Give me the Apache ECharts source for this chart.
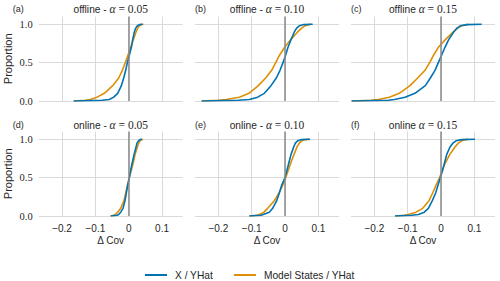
<!DOCTYPE html>
<html><head><meta charset="utf-8">
<script src="https://cdn.jsdelivr.net/npm/echarts@6/dist/echarts.min.js"></script>
<style>html,body{margin:0;padding:0;background:#fff}#c{width:500px;height:281px}</style>
</head><body><div id="c"></div>
<script>
// ---- data ----
const proportions = [0, 0.01, 0.02, 0.05, 0.1, 0.2, 0.3, 0.4, 0.5, 0.6, 0.7, 0.8, 0.9, 0.95, 0.98, 0.995, 1];
const seriesNames = ['X / YHat', 'Model States / YHat'];
const panelLabels = ['(a)', '(b)', '(c)', '(d)', '(e)', '(f)'];
const panelModes = ['offline - ', 'offline - ', 'offline ', 'online - ', 'online - ', 'online '];
const panelAlphas = ['0.05', '0.10', '0.15', '0.05', '0.10', '0.15'];
const xTicks = [-0.2, -0.1, 0, 0.1];
const yTicks = [0, 0.5, 1];
// ΔCov value reached at each proportion (X / YHat, Model States / YHat)
const aX = [-0.165, -0.08, -0.058, -0.045, -0.033, -0.022, -0.015, -0.009, -0.004, 0.002, 0.008, 0.012, 0.017, 0.021, 0.026, 0.032, 0.042];
const aM = [-0.165, -0.13, -0.115, -0.095, -0.073, -0.048, -0.03, -0.019, -0.010, -0.002, 0.006, 0.014, 0.022, 0.027, 0.032, 0.038, 0.044];
const bX = [-0.25, -0.14, -0.107, -0.082, -0.062, -0.042, -0.026, -0.015, -0.006, 0.002, 0.009, 0.018, 0.028, 0.035, 0.043, 0.055, 0.083];
const bM = [-0.25, -0.2, -0.177, -0.137, -0.108, -0.08, -0.058, -0.04, -0.028, -0.016, -0.001, 0.017, 0.038, 0.05, 0.06, 0.07, 0.078];
const cX = [-0.268, -0.158, -0.14, -0.108, -0.078, -0.047, -0.032, -0.018, -0.008, 0.002, 0.012, 0.023, 0.038, 0.048, 0.058, 0.08, 0.122];
const cM = [-0.268, -0.21, -0.188, -0.155, -0.125, -0.093, -0.07, -0.048, -0.034, -0.022, -0.008, 0.013, 0.037, 0.05, 0.062, 0.075, 0.082];
const dX = [-0.054, -0.035, -0.03, -0.024, -0.017, -0.011, -0.007, -0.003, 0.002, 0.006, 0.011, 0.016, 0.022, 0.025, 0.029, 0.034, 0.04];
const dM = [-0.054, -0.045, -0.04, -0.033, -0.024, -0.014, -0.009, -0.004, 0.002, 0.008, 0.014, 0.019, 0.026, 0.03, 0.034, 0.039, 0.043];
const eX = [-0.107, -0.072, -0.065, -0.047, -0.037, -0.025, -0.017, -0.01, 0.0, 0.006, 0.012, 0.018, 0.026, 0.031, 0.038, 0.048, 0.075];
const eM = [-0.107, -0.085, -0.077, -0.063, -0.052, -0.032, -0.018, -0.007, 0.002, 0.01, 0.018, 0.027, 0.036, 0.043, 0.05, 0.06, 0.073];
const fX = [-0.138, -0.088, -0.068, -0.05, -0.038, -0.026, -0.016, -0.009, -0.002, 0.005, 0.011, 0.017, 0.027, 0.036, 0.045, 0.062, 0.102];
const fM = [-0.138, -0.11, -0.098, -0.075, -0.055, -0.036, -0.025, -0.015, -0.004, 0.004, 0.014, 0.026, 0.042, 0.052, 0.062, 0.072, 0.082];

// ---- layout / style ----
const panels = [[aX, aM], [bX, bM], [cX, cM], [dX, dM], [eX, eM], [fX, fM]];
const colors = ['#0173B2', '#DE8F05'];
const SANS = 'Liberation Sans', SERIF = 'Liberation Serif', TXT = '#262626';
const lefts = [38.7, 195, 351], tops = [16.6, 131.6], W = 144, H = 84.4;
const gridColor = '#dadada';

const grids = [], xAxes = [], yAxes = [], series = [], graphics = [];
panels.forEach((p, i) => {
  const r = Math.floor(i / 3), c = i % 3;
  grids.push({left: lefts[c], top: tops[r], width: W, height: H, containLabel: false, outerBoundsMode: 'none'});
  xAxes.push({
    type: 'value', gridIndex: i, min: -0.27, max: 0.162,
    axisLine: {show: false}, axisTick: {show: false, customValues: xTicks},
    axisLabel: {show: r === 1, customValues: xTicks, margin: 7, fontFamily: SANS, fontSize: 10, color: TXT,
      formatter: v => v === 0 ? '0' : (v < 0 ? '\u2212' : '') + Math.abs(v).toFixed(1)},
    splitLine: {show: true, lineStyle: {color: gridColor, width: 1}},
    name: r === 1 ? 'Δ Cov' : '', nameLocation: 'middle', nameGap: 19,
    nameTextStyle: {fontFamily: SANS, fontSize: 10, color: TXT}
  });
  yAxes.push({
    type: 'value', gridIndex: i, min: 0, max: 1.1,
    axisLine: {show: false}, axisTick: {show: false, customValues: yTicks},
    axisLabel: {show: c === 0, customValues: yTicks, margin: 6, fontFamily: SERIF, fontSize: 10.5, color: TXT,
      formatter: v => v.toFixed(1)},
    splitLine: {show: true, lineStyle: {color: gridColor, width: 1}},
    name: c === 0 ? 'Proportion' : '', nameLocation: 'middle', nameGap: 25,
    nameTextStyle: {fontFamily: SANS, fontSize: 11, color: TXT}
  });
  [1, 0].forEach(k => {
    series.push({
      type: 'line', name: seriesNames[k], xAxisIndex: i, yAxisIndex: i,
      data: p[k].map((x, j) => [x, proportions[j]]),
      symbol: 'none', showSymbol: false, smooth: false,
      lineStyle: {color: colors[k], width: 1.6}, itemStyle: {color: colors[k]},
      emphasis: {disabled: true}, silent: true, z: 2 + (1 - k) * 0.1,
      markLine: k === 0 ? {silent: true, symbol: 'none', label: {show: false},
        lineStyle: {color: '#8a8a8a', width: 1.5, type: 'solid'}, data: [{xAxis: 0}]} : undefined
    });
  });
  // panel title
  graphics.push({
    type: 'text', silent: true,
    style: {
      x: lefts[c] + W / 2, y: tops[r] - 7.6 + (r === 1 ? 1 : 0), align: 'center', verticalAlign: 'middle',
      text: panelModes[i] + '{a|α}{s| = ' + panelAlphas[i] + '}',
      fontFamily: SANS, fontSize: 10.2, fill: TXT,
      rich: {
        a: {fontFamily: SERIF, fontStyle: 'italic', fontSize: 11.5, fill: TXT, color: TXT},
        s: {fontFamily: SERIF, fontSize: 11.5, fill: TXT, color: TXT}
      }
    }
  });
  graphics.push({
    type: 'text', silent: true,
    style: {
      x: c === 0 ? 12.7 : lefts[c], y: tops[r] - 7.8 + (r === 1 ? 1.5 : 0), align: 'left', verticalAlign: 'middle',
      text: panelLabels[i], fontFamily: SANS, fontSize: 9, fill: TXT
    }
  });
});

const chart = echarts.init(document.getElementById('c'), null, {renderer: 'svg'});
chart.setOption({
  animation: false,
  backgroundColor: '#fff',
  grid: grids, xAxis: xAxes, yAxis: yAxes, series: series,
  legend: {
    data: seriesNames, left: 140, top: 265, icon: 'rect', itemWidth: 22, itemHeight: 2, itemGap: 21,
    textStyle: {fontFamily: SANS, fontSize: 10.2, color: TXT, padding: [0, 0, 0, 3]},
    selectedMode: false
  },
  graphic: graphics
});
</script>
</body></html>
